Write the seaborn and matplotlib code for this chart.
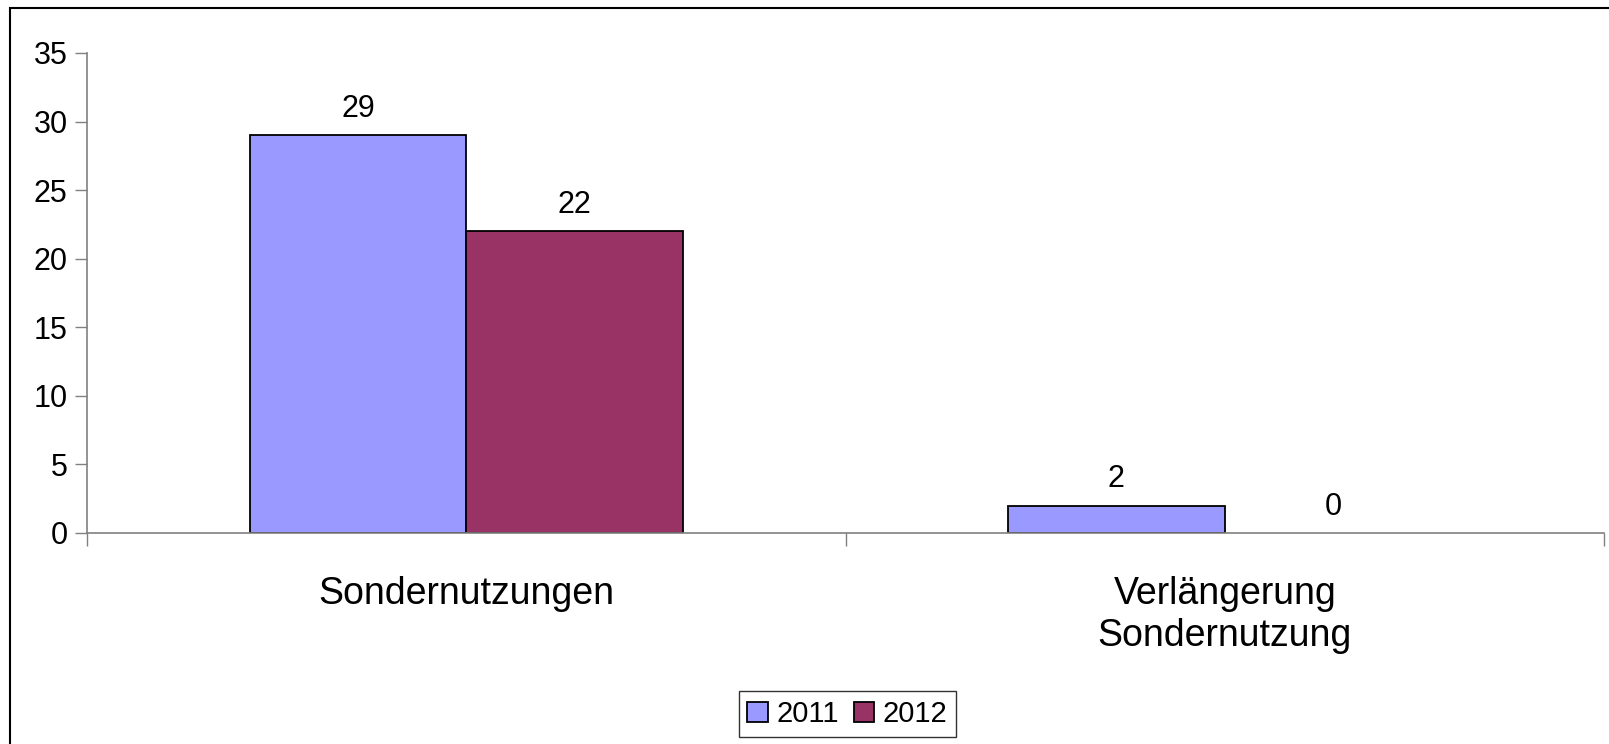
import pandas as pd
import matplotlib.pyplot as plt
import seaborn as sns
from matplotlib.patches import Rectangle

categories = ["Sondernutzungen", "Verlängerung\nSondernutzung"]
years = ["2011", "2012"]
values_2011 = [29, 2]
values_2012 = [22, 0]
colors = ["#9999FF", "#993366"]

df = pd.DataFrame({
    "Kategorie": categories * 2,
    "Jahr": [years[0]] * 2 + [years[1]] * 2,
    "Anzahl": values_2011 + values_2012,
})

sns.set_style("white")
plt.rcParams["font.family"] = ["Liberation Sans", "DejaVu Sans"]
plt.rcParams["text.color"] = "black"
plt.rcParams["xtick.labelcolor"] = "black"
plt.rcParams["ytick.labelcolor"] = "black"

W, H = 1609, 744
fig = plt.figure(figsize=(W / 100, H / 100), dpi=100)
ax = fig.add_axes([87 / W, 1 - 533 / H, (1604 - 87) / W, (533 - 53) / H])

sns.barplot(data=df, x="Kategorie", y="Anzahl", hue="Jahr", palette=colors,
            saturation=1, width=4 / 7, gap=0, edgecolor="black",
            linewidth=1.3, ax=ax, legend=True)

# zero-height bars draw no outline
for p in ax.patches:
    if p.get_height() == 0:
        p.set_linewidth(0)

for c in ax.containers:
    ax.bar_label(c, fmt="%d", padding=8, fontsize=22, color="black")

ax.set_ylim(0, 35)
ax.set_xlim(-0.5, 1.5)
ax.set_yticks(range(0, 36, 5))
ax.tick_params(axis="y", labelsize=22, length=9, width=1, color="#808080",
               labelcolor="black", left=True, pad=5)
ax.set_xticks([0, 1])
ax.set_xticklabels(categories, fontsize=27, linespacing=1.22, color="black")
ax.set_xticks([-0.5, 0.5, 1.5], minor=True)
ax.tick_params(axis="x", which="major", length=0, pad=31)
ax.tick_params(axis="x", which="minor", length=9, width=1, color="#808080",
               bottom=True)
ax.set_xlabel("")
ax.set_ylabel("")
for s in ["top", "right"]:
    ax.spines[s].set_visible(False)
for s in ["left", "bottom"]:
    ax.spines[s].set_color("#808080")
    ax.spines[s].set_linewidth(1.2)

handles, labels = ax.get_legend_handles_labels()
leg = ax.legend(handles, labels, ncol=2, loc="center",
                bbox_to_anchor=(847.5 / W, 1 - 714 / H),
                bbox_transform=fig.transFigure, fontsize=21, frameon=True,
                fancybox=False, handlelength=0.7, handleheight=0.7,
                handletextpad=0.3, columnspacing=0.5, borderpad=0.3)
leg.get_frame().set_edgecolor("black")
leg.get_frame().set_linewidth(1)
for h in leg.legend_handles:
    h.set_edgecolor("black")
    h.set_linewidth(1.3)

# outer chart frame (right and bottom run off the picture)
fig.patches.append(Rectangle((10 / W, -0.1), 1.2, 1 - 8 / H + 0.1,
                             transform=fig.transFigure, fill=False,
                             edgecolor="black", linewidth=1.5))

fig.savefig("out.png", dpi=100)
